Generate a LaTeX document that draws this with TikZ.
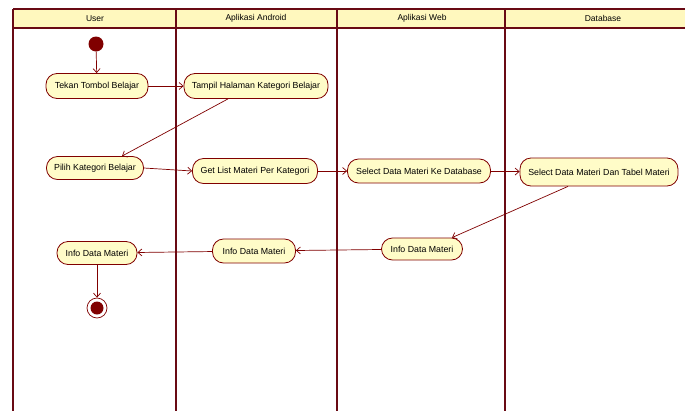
\documentclass[tikz,border=0pt]{standalone}
\usepackage{fontspec}
\setmainfont{Liberation Sans}
\usetikzlibrary{arrows.meta}
\definecolor{umlline}{RGB}{128,0,0}
\definecolor{lanecol}{RGB}{105,10,20}
\definecolor{headfill}{RGB}{255,248,190}
\definecolor{nodefill}{RGB}{255,252,200}
\begin{document}
\begin{tikzpicture}[x=1pt,y=-1pt,
  act/.style={draw=umlline, fill=nodefill, rounded corners=11pt, minimum height=25pt,
    inner sep=2pt, font=\fontsize{8.8}{10}\selectfont, line width=0.8pt},
  flow/.style={draw=umlline, line width=0.7pt, -{Straight Barb[length=4pt,width=7pt]}},
  lane/.style={draw=lanecol, line width=1.7pt},
  head/.style={font=\fontsize{8.5}{10}\selectfont, inner sep=0pt}]
\useasboundingbox (0,0) rectangle (685,410);
\fill[white] (0,0) rectangle (685,410);

% swimlane header band
\fill[headfill] (13,9) rectangle (690,28);
\draw[lane] (13,9) -- (690,9);
\draw[lane] (13,28) -- (690,28);
\foreach \x in {13,176,337,505} \draw[lane] (\x,9) -- (\x,412);

\node[head] (hUser) at (95,18.5) {User};
\node[head] (hAndroid) at (256,18.5) {Aplikasi Android};
\node[head] (hWeb) at (422,18.5) {Aplikasi Web};
\node[head] (hDb) at (603,18.5) {Database};

% initial and final states
\node[circle, fill=umlline, minimum size=15pt, inner sep=0pt] (start) at (96,44) {};
\node[circle, draw=umlline, fill=white, line width=0.7pt, minimum size=20pt, inner sep=0pt] (end) at (97,308) {};
\fill[umlline] (end.center) circle (6.5pt);

% activities
\node[act, minimum width=102pt] (tekan) at (97,86) {Tekan Tombol Belajar};
\node[act, minimum width=144pt] (tampil) at (256,86) {Tampil Halaman Kategori Belajar};
\node[act, minimum width=97pt, minimum height=23pt] (pilih) at (95,168) {Pilih Kategori Belajar};
\node[act, minimum width=125pt] (getlist) at (255,171) {Get List Materi Per Kategori};
\node[act, minimum width=143pt, minimum height=24pt] (selke) at (419,171) {Select Data Materi Ke Database};
\node[act, minimum width=158pt, minimum height=28pt] (seldan) at (599,172) {Select Data Materi Dan Tabel Materi};
\node[act, minimum width=81pt, minimum height=22pt] (infoweb) at (422,249) {Info Data Materi};
\node[act, minimum width=83pt, minimum height=24pt] (infoand) at (254,251) {Info Data Materi};
\node[act, minimum width=80pt, minimum height=23pt] (infouser) at (97,253) {Info Data Materi};

% control flows
\draw[flow] (start) -- (tekan);
\draw[flow] (tekan) -- (tampil);
\draw[flow] ([xshift=-28pt]tampil.south) -- ([xshift=27pt]pilih.north);
\draw[flow] (pilih.east) -- (getlist.west);
\draw[flow] (getlist) -- (selke);
\draw[flow] (selke) -- (seldan);
\draw[flow] ([xshift=-31pt]seldan.south) -- ([xshift=30pt]infoweb.north);
\draw[flow] (infoweb) -- (infoand);
\draw[flow] (infoand) -- (infouser);
\draw[flow] (infouser) -- (end);
\end{tikzpicture}
\end{document}
